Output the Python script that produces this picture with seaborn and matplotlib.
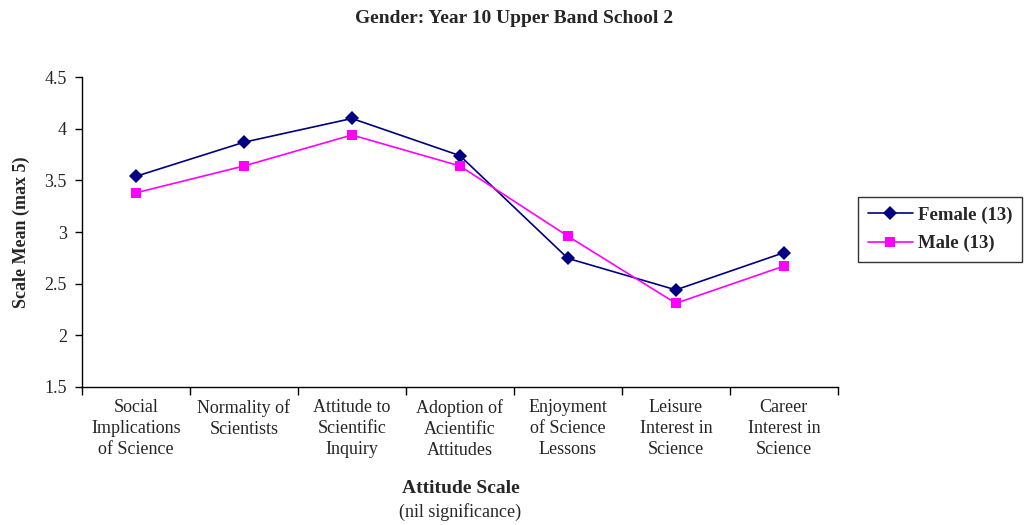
import matplotlib
matplotlib.use("Agg")
import matplotlib.pyplot as plt
import seaborn as sns
import pandas as pd
from matplotlib.ticker import FixedLocator, NullFormatter

categories = ["Social\nImplications\nof Science", "Normality of\nScientists",
              "Attitude to\nScientific\nInquiry", "Adoption of\nAcientific\nAttitudes",
              "Enjoyment\nof Science\nLessons", "Leisure\nInterest in\nScience",
              "Career\nInterest in\nScience"]
female = [3.54, 3.87, 4.10, 3.74, 2.745, 2.44, 2.80]
male = [3.38, 3.64, 3.94, 3.64, 2.96, 2.31, 2.67]
series_names = ["Female (13)", "Male (13)"]
yticks = [1.5, 2, 2.5, 3, 3.5, 4, 4.5]
ytick_labels = ["1.5", "2", "2.5", "3", "3.5", "4", "4.5"]

sns.set_style("white")
plt.rcParams['font.family'] = ['Liberation Serif', 'DejaVu Serif']

df = pd.DataFrame({
    "x": list(range(len(categories))) * 2,
    "value": female + male,
    "series": [series_names[0]] * len(female) + [series_names[1]] * len(male),
})

fig = plt.figure(figsize=(10.28, 5.25), dpi=100)
ax = fig.add_axes([0.0798, 0.263, 0.7352, 0.590])

sns.lineplot(data=df, x="x", y="value", hue="series", style="series",
             palette={series_names[0]: "#000080", series_names[1]: "#FF00FF"},
             markers={series_names[0]: "D", series_names[1]: "s"},
             dashes=False, markersize=7, linewidth=1.2, markeredgewidth=0,
             ax=ax, legend=True)

ax.set_xlim(-0.5, len(categories) - 0.5)
ax.set_ylim(1.5, 4.5)
ax.set_yticks(yticks)
ax.set_yticklabels(ytick_labels, fontsize=13)
ax.set_xticks(range(len(categories)))
ax.set_xticklabels(categories, fontsize=13, linespacing=1.3)
ax.tick_params(axis='x', which='major', length=0, pad=9)
ax.xaxis.set_minor_locator(FixedLocator([i - 0.5 for i in range(len(categories) + 1)]))
ax.xaxis.set_minor_formatter(NullFormatter())
ax.tick_params(axis='x', which='minor', length=6, width=1, color='black', direction='out', bottom=True)
ax.tick_params(axis='y', length=5, width=1, color='black', direction='out', left=True, pad=6)

for s in ["top", "right"]:
    ax.spines[s].set_visible(False)
for s in ["left", "bottom"]:
    ax.spines[s].set_color("black")
    ax.spines[s].set_linewidth(1)

ax.set_xlabel("")
ax.set_ylabel("Scale Mean (max 5)", fontsize=13, fontweight="bold", labelpad=10)

fig.text(0.5, 0.965, "Gender: Year 10 Upper Band School 2", ha="center", va="center",
         fontsize=14, fontweight="bold")
fig.text(0.448, 0.07, "Attitude Scale", ha="center", va="center", fontsize=14, fontweight="bold")
fig.text(0.448, 0.025, "(nil significance)", ha="center", va="center", fontsize=13)

handles, labels = ax.get_legend_handles_labels()
ax.get_legend().remove()
leg = fig.legend(handles, labels, loc="upper left", bbox_to_anchor=(0.835, 0.625),
                 bbox_transform=fig.transFigure, frameon=True, fancybox=False,
                 edgecolor="black", prop={"weight": "bold", "size": 13.5},
                 handlelength=2.4, handletextpad=0.3, borderpad=0.5, labelspacing=0.6,
                 borderaxespad=0)
leg.get_frame().set_linewidth(1)

fig.savefig("out.png", dpi=100)
